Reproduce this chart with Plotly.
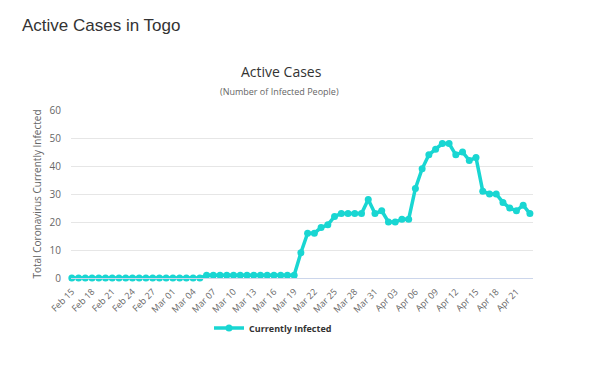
import plotly.graph_objects as go

dates = [
    "2020-02-15", "2020-02-16", "2020-02-17", "2020-02-18", "2020-02-19", "2020-02-20",
    "2020-02-21", "2020-02-22", "2020-02-23", "2020-02-24", "2020-02-25", "2020-02-26",
    "2020-02-27", "2020-02-28", "2020-02-29", "2020-03-01", "2020-03-02", "2020-03-03",
    "2020-03-04", "2020-03-05", "2020-03-06", "2020-03-07", "2020-03-08", "2020-03-09",
    "2020-03-10", "2020-03-11", "2020-03-12", "2020-03-13", "2020-03-14", "2020-03-15",
    "2020-03-16", "2020-03-17", "2020-03-18", "2020-03-19", "2020-03-20", "2020-03-21",
    "2020-03-22", "2020-03-23", "2020-03-24", "2020-03-25", "2020-03-26", "2020-03-27",
    "2020-03-28", "2020-03-29", "2020-03-30", "2020-03-31", "2020-04-01", "2020-04-02",
    "2020-04-03", "2020-04-04", "2020-04-05", "2020-04-06", "2020-04-07", "2020-04-08",
    "2020-04-09", "2020-04-10", "2020-04-11", "2020-04-12", "2020-04-13", "2020-04-14",
    "2020-04-15", "2020-04-16", "2020-04-17", "2020-04-18", "2020-04-19", "2020-04-20",
    "2020-04-21", "2020-04-22", "2020-04-23",
]

currently_infected = [
    0, 0, 0, 0, 0, 0, 0, 0, 0, 0, 0, 0, 0, 0, 0, 0, 0, 0, 0, 0,
    1, 1, 1, 1, 1, 1, 1, 1, 1, 1, 1, 1, 1, 1,
    9, 16, 16, 18, 19, 22, 23, 23, 23, 23, 28, 23, 24, 20, 20, 21, 21,
    32, 39, 44, 46, 48, 48, 44, 45, 42, 43, 31, 30, 30, 27, 25, 24, 26, 23,
]

page_title = "Active Cases in Togo"
chart_title = "Active Cases"
chart_subtitle = "(Number of Infected People)"
y_title = "Total Coronavirus Currently Infected"
series_name = "Currently Infected"

color = "#19d6d2"
font_family = "Open Sans, Noto Sans, sans-serif"

# the page body adds an 8px margin, so the figure is 8px smaller than the window
W, H = 607, 360
L, T, R, B = 63, 102, 82, 90
plot_w = W - L - R
plot_h = H - T - B

fig = go.Figure()
fig.add_trace(go.Scatter(
    x=dates, y=currently_infected, name="<b>" + series_name + "</b>",
    mode="lines+markers",
    line=dict(color=color, width=3.5),
    marker=dict(color=color, size=7),
    cliponaxis=False,
))

fig.update_layout(
    width=W, height=H,
    margin=dict(l=L, r=R, t=T, b=B, autoexpand=False),
    paper_bgcolor="white", plot_bgcolor="white",
    font=dict(family=font_family, color="#666666", size=10),
    title=dict(
        text=page_title, x=14 / W, xanchor="left", xref="container",
        y=1 - 17 / H, yanchor="middle", yref="container",
        font=dict(family="Liberation Sans, Arial, sans-serif", size=17, color="#333333"),
    ),
    xaxis=dict(
        type="date",
        range=["2020-02-14 21:00", "2020-04-23 11:00"],
        tick0="2020-02-15", dtick=3 * 86400000,
        tickformat="%b %d", tickangle=-45,
        tickfont=dict(size=9, color="#666666"),
        ticklabelstandoff=4,
        showgrid=False, showline=True, linecolor="#ccd6eb", linewidth=1,
        ticks="", zeroline=False,
    ),
    yaxis=dict(
        range=[0, 60], dtick=10,
        gridcolor="#e6e6e6", gridwidth=1, zeroline=False,
        tickfont=dict(size=10, color="#666666"),
        ticklabelstandoff=9,
        title=dict(text=y_title, font=dict(size=10, color="#666666"), standoff=6),
    ),
    showlegend=True,
    legend=dict(
        orientation="h", x=(265 - L) / plot_w, xanchor="center", y=-0.212, yanchor="top",
        font=dict(size=9, color="#333333", family=font_family),
        itemwidth=30,
    ),
    annotations=[
        dict(text=chart_title, xref="paper", yref="paper", x=(273 - L) / plot_w,
             y=1 + 38 / plot_h, showarrow=False, xanchor="center", yanchor="middle",
             font=dict(size=14, color="#333333", family=font_family)),
        dict(text=chart_subtitle, xref="paper", yref="paper", x=(271 - L) / plot_w,
             y=1 + 18 / plot_h, showarrow=False, xanchor="center", yanchor="middle",
             font=dict(size=9, color="#666666", family=font_family)),
    ],
)

fig.write_html("out.html")
